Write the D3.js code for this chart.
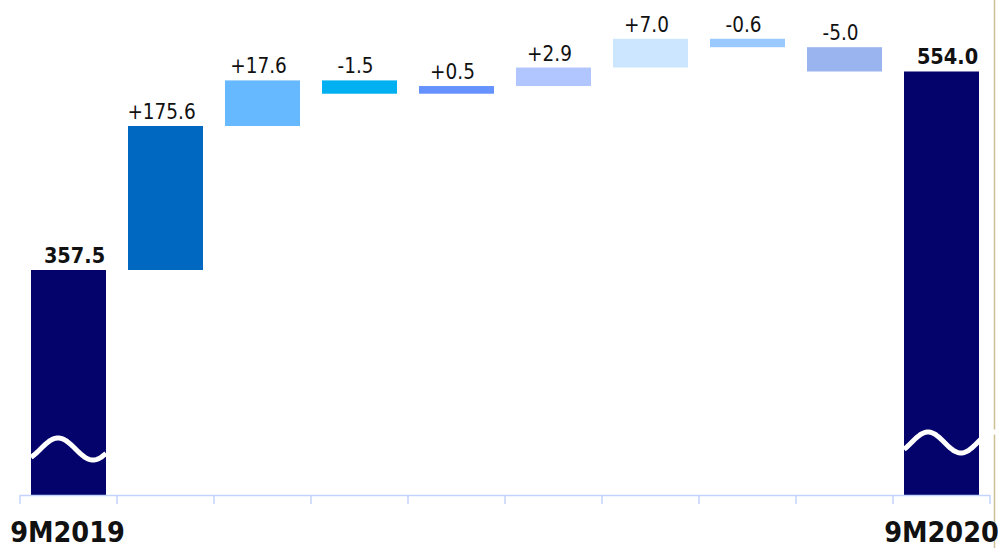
<!DOCTYPE html>
<html>
<head>
<meta charset="utf-8">
<script src="https://cdn.jsdelivr.net/npm/d3@7/dist/d3.min.js"></script>
<style>
  html, body { margin: 0; padding: 0; background: #ffffff; }
  svg { display: block; }
</style>
</head>
<body>
<svg id="chart" width="998" height="548"></svg>
<script>
// Bridge from 9M2019 to 9M2020
const categories = ["9M2019", "", "", "", "", "", "", "", "", "9M2020"];
const startTotal = 357.5;
const deltas = [175.6, 17.6, -1.5, 0.5, 2.9, 7.0, -0.6, -5.0];
const endTotal = 554.0;
const stepColors = ["#0068c0", "#66b9ff", "#00b0f0", "#6692ff", "#b1c5ff", "#cce6ff", "#99c9ff", "#99b4ee"];
const totalColor = "#03036b";

const W = 998, H = 548;
const baseY = 495;
const svg = d3.select("#chart");
const fmt = v => v.toFixed(1);

const x = d3.scaleBand()
  .domain(d3.range(categories.length))
  .range([20, 990])
  .paddingInner(0.227)
  .paddingOuter(0.1135);

// Broken axis: the totals sit on a compressed lower segment,
// the steps above it are sized on a square-root scale of their magnitude.
const yBase = d3.scaleLinear().domain([0, startTotal]).range([baseY, 270]);
const stepH = d3.scaleSqrt()
  .domain([0, d3.max(deltas, d => Math.abs(d))])
  .range([0, 144]);

// Build waterfall rows
const rows = [];
let level = yBase(startTotal);
rows.push({ i: 0, top: level, bottom: baseY, color: totalColor, label: fmt(startTotal), total: true });
deltas.forEach((d, k) => {
  const h = stepH(Math.abs(d));
  const next = d >= 0 ? level - h : level + h;
  rows.push({
    i: k + 1,
    top: Math.min(level, next),
    bottom: Math.max(level, next),
    color: stepColors[k],
    label: (d >= 0 ? "+" : "-") + fmt(Math.abs(d)),
    total: false
  });
  level = next;
});
rows.push({ i: categories.length - 1, top: level, bottom: baseY, color: totalColor, label: fmt(endTotal), total: true });

// Right frame line
svg.append("line")
  .attr("x1", 994.5).attr("x2", 994.5)
  .attr("y1", 0).attr("y2", H)
  .attr("stroke", "#cdbf97").attr("stroke-width", 1.5);

// Bars
svg.append("g").selectAll("rect")
  .data(rows)
  .join("rect")
  .attr("x", d => x(d.i))
  .attr("width", x.bandwidth())
  .attr("y", d => d.top)
  .attr("height", d => d.bottom - d.top)
  .attr("fill", d => d.color);

// Break marks on the total bars
function wave(x0, x1, cy, amp, period, peakX) {
  const pts = d3.range(x0, x1 + 0.5, 1).map(px => [px, cy - amp * Math.sin(2 * Math.PI * (px - peakX) / period + Math.PI / 2)]);
  return d3.line()(pts);
}
const b0 = x(0), bN = x(categories.length - 1);
svg.append("path")
  .attr("d", wave(b0, b0 + x.bandwidth(), baseY - 46, 11, 70, b0 + 27))
  .attr("fill", "none").attr("stroke", "#ffffff").attr("stroke-width", 5);
svg.append("path")
  .attr("d", wave(bN, W, baseY - 52.5, 10.5, 66, bN + 24))
  .attr("fill", "none").attr("stroke", "#ffffff").attr("stroke-width", 5);

// Category axis
const axisColor = "#c3d3fb";
const axis = svg.append("g");
axis.append("line")
  .attr("x1", 20).attr("x2", 990)
  .attr("y1", baseY + 0.5).attr("y2", baseY + 0.5)
  .attr("stroke", axisColor).attr("stroke-width", 1.5);
const bounds = d3.range(categories.length + 1).map(k => 20 + k * x.step());
axis.selectAll("line.tick")
  .data(bounds)
  .join("line")
  .attr("class", "tick")
  .attr("x1", d => d).attr("x2", d => d)
  .attr("y1", baseY).attr("y2", baseY + 9)
  .attr("stroke", axisColor).attr("stroke-width", 1.5);

axis.selectAll("text")
  .data(categories.map((c, i) => ({ c, i })).filter(d => d.c))
  .join("text")
  .attr("x", d => x(d.i) + x.bandwidth() / 2 + (d.i === 0 ? -1 : 0))
  .attr("y", 542)
  .attr("text-anchor", "middle")
  .attr("font-family", "'DejaVu Sans Condensed', 'DejaVu Sans', sans-serif")
  .attr("font-weight", "bold")
  .attr("font-size", 28.5)
  .attr("fill", "#111111")
  .text(d => d.c);

// Value labels
svg.append("g").selectAll("text")
  .data(rows)
  .join("text")
  .attr("x", d => x(d.i) + x.bandwidth() / 2 + (d.total ? 6 : -4))
  .attr("y", d => d.top - 7)
  .attr("text-anchor", "middle")
  .attr("font-family", "'DejaVu Sans Condensed', 'DejaVu Sans', sans-serif")
  .attr("font-weight", d => d.total ? "bold" : "normal")
  .attr("font-size", d => d.total ? 21.5 : 20.5)
  .attr("fill", "#111111")
  .text(d => d.label);
</script>
</body>
</html>
